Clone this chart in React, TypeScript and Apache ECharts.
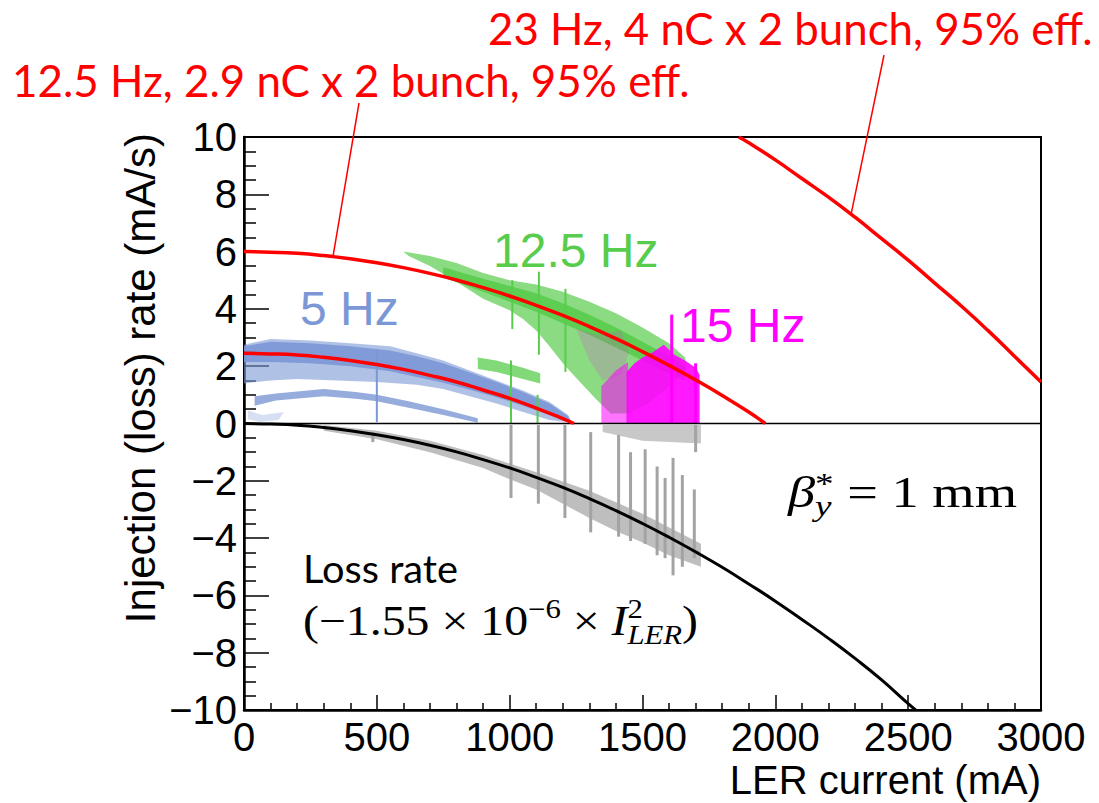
import { useEffect, useRef } from 'react';
import * as echarts from 'echarts';

type Pt = [number, number];

// x = LER current (mA), y = injection (loss) rate (mA/s)
const curve125: Pt[] = [
  [0, 6.0], [100, 5.98], [200, 5.94], [300, 5.86], [400, 5.75], [500, 5.61], [600, 5.44],
  [700, 5.24], [800, 5.01], [900, 4.74], [1000, 4.45], [1100, 4.12], [1200, 3.77],
  [1300, 3.38], [1400, 2.96], [1500, 2.51], [1600, 2.03], [1700, 1.52], [1800, 0.98],
  [1900, 0.4], [1962, 0],
];
const curve5: Pt[] = [
  [0, 2.45], [100, 2.43], [200, 2.39], [300, 2.31], [400, 2.2], [500, 2.06], [600, 1.89],
  [700, 1.68], [800, 1.45], [900, 1.17], [1000, 0.88], [1100, 0.54], [1200, 0.17], [1242, 0],
];
const curve23: Pt[] = [
  [1862, 10], [1900, 9.8], [2000, 9.2], [2100, 8.55], [2200, 7.9], [2300, 7.2], [2400, 6.45],
  [2500, 5.7], [2600, 4.9], [2700, 4.1], [2800, 3.25], [2900, 2.35], [3000, 1.45],
];
const lossCurve: Pt[] = [
  [0, 0], [100, -0.02], [200, -0.06], [300, -0.14], [400, -0.25], [500, -0.39], [600, -0.56],
  [700, -0.76], [800, -0.99], [900, -1.26], [1000, -1.55], [1100, -1.88], [1200, -2.23],
  [1300, -2.62], [1400, -3.04], [1500, -3.49], [1600, -3.97], [1700, -4.48], [1800, -5.02],
  [1900, -5.6], [2000, -6.2], [2100, -6.84], [2200, -7.5], [2300, -8.2], [2400, -8.95],
  [2500, -9.78], [2528, -10],
];
const zeroLine: Pt[] = [[0, 0], [3000, 0]];

// outlines of the measured point clouds
const blueOuter: Pt[] = [
  [0, 2.75], [100, 2.95], [250, 2.9], [400, 2.8], [550, 2.7], [650, 2.45], [750, 2.2],
  [850, 1.85], [950, 1.5], [1050, 1.15], [1150, 0.75], [1220, 0.3], [1235, 0.03],
  [1150, 0.12], [1050, 0.4], [950, 0.7], [850, 0.95], [750, 1.2], [650, 1.35], [500, 1.45],
  [350, 1.5], [200, 1.55], [100, 1.5], [0, 1.4],
];
const blueCore: Pt[] = [
  [0, 2.7], [100, 2.85], [250, 2.8], [400, 2.7], [550, 2.55], [650, 2.35], [750, 2.1],
  [850, 1.78], [950, 1.45], [1050, 1.1], [1150, 0.7], [1220, 0.25], [1232, 0.02],
  [1150, 0.3], [1050, 0.62], [950, 0.92], [850, 1.18], [750, 1.42], [650, 1.62], [550, 1.82],
  [400, 2.0], [250, 2.1], [100, 2.15], [0, 2.15],
];
const blueLowBand: Pt[] = [
  [40, 0.95], [120, 1.05], [300, 1.2], [420, 1.1], [500, 1.0], [620, 0.78], [750, 0.5],
  [880, 0.18], [880, 0.03], [750, 0.3], [620, 0.55], [500, 0.78], [420, 0.86], [300, 0.95],
  [120, 0.8], [40, 0.62],
];
const blueSpecks: Pt[] = [[15, 0.45], [70, 0.3], [150, 0.4], [130, 0.12], [60, 0.05], [15, 0.15]];
const greenOuter: Pt[] = [
  [600, 6.0], [700, 5.85], [800, 5.6], [900, 5.25], [1000, 5.0], [1100, 4.85], [1200, 4.6],
  [1300, 4.25], [1400, 3.85], [1500, 3.35], [1600, 2.8], [1660, 2.3], [1665, 1.9],
  [1600, 1.3], [1520, 0.7], [1450, 0.35], [1380, 0.35], [1320, 0.9], [1250, 1.6],
  [1200, 2.1], [1150, 2.7], [1100, 3.25], [1050, 3.65], [1000, 3.95], [900, 4.35],
  [800, 4.95], [700, 5.5], [620, 5.85],
];
const greenCore: Pt[] = [
  [750, 5.45], [900, 5.05], [1000, 4.8], [1100, 4.55], [1200, 4.2], [1300, 3.8], [1400, 3.35],
  [1500, 2.85], [1600, 2.35], [1660, 2.0], [1660, 1.5], [1600, 1.75], [1500, 2.2],
  [1400, 2.65], [1300, 3.1], [1200, 3.5], [1100, 3.9], [1000, 4.25], [900, 4.6], [750, 5.1],
];
const greenSideBand: Pt[] = [
  [880, 2.3], [950, 2.2], [1050, 1.95], [1115, 1.75], [1115, 1.4], [1050, 1.55], [950, 1.8],
  [880, 1.9],
];
const magentaSparse: Pt[] = [
  [1250, 3.3], [1330, 3.1], [1420, 3.25], [1450, 2.5], [1420, 1.7], [1350, 1.5], [1300, 2.2],
];
const magentaFringe: Pt[] = [[1345, 0], [1345, 1.3], [1400, 1.85], [1445, 2.15], [1445, 0]];
const magentaBlock: Pt[] = [
  [1440, 0], [1440, 1.8], [1470, 2.1], [1500, 2.3], [1540, 2.5], [1580, 2.75], [1620, 2.4],
  [1660, 2.2], [1700, 1.95], [1715, 1.7], [1715, 0],
];
const grayBand: Pt[] = [
  [300, -0.05], [500, -0.25], [700, -0.6], [900, -1.1], [1100, -1.7], [1300, -2.35],
  [1500, -3.15], [1720, -4.2], [1720, -5.0], [1600, -4.6], [1500, -4.15], [1400, -3.75],
  [1300, -3.3], [1200, -2.8], [1100, -2.3], [1000, -1.95], [900, -1.55], [700, -1.0],
  [500, -0.55], [300, -0.25],
];
const grayNearZero: Pt[] = [[1350, -0.05], [1720, -0.05], [1720, -0.7], [1500, -0.6], [1350, -0.3]];

// vertical streaks: [mA, from, to]
const graySpikes = [
  [485, -0.3, -0.65], [1005, -0.05, -2.6], [1108, -0.05, -2.8], [1208, -0.05, -3.3],
  [1305, -0.3, -3.8], [1410, -0.4, -3.95], [1455, -1.0, -4.1], [1510, -0.9, -4.2],
  [1555, -1.5, -4.6], [1585, -1.9, -4.7], [1615, -1.2, -5.3], [1650, -1.8, -5.0],
  [1695, -2.3, -4.7], [1700, -0.05, -1.0],
];
const greenSpikes = [[1005, 0, 2.2], [1010, 3.3, 5.0], [1105, 0, 1.0], [1110, 2.4, 5.3], [1210, 1.8, 4.7]];
const magentaSpikes = [[1610, 0, 3.8], [1700, 0, 2.1]];
const blueSpikes = [[500, 0.05, 2.6]];

// where the two label leaders touch their curves
const leaderTargets: Pt[] = [[335, 5.83], [2285, 7.3]];

const RED = '#ff0000';
const GREEN = '#58cc4c';
const BLUE = '#7b97d5';
const MAGENTA = '#ff00ff';
const GRAY = '#a3a3a3';
const SANS = 'Liberation Sans';
const SERIF = 'Liberation Serif';
const CALIBRI = 'Lato';

function band(outline: Pt[], color: string, opacity: number, z: number) {
  return {
    type: 'custom',
    silent: true,
    z,
    data: [outline[0]],
    renderItem: (_p: any, api: any) => ({
      type: 'polygon',
      shape: { points: outline.map((p) => api.coord(p)) },
      style: { fill: color, opacity },
    }),
  };
}

function streaks(rows: number[][], color: string, width: number, z: number) {
  return {
    type: 'custom',
    silent: true,
    z,
    data: rows,
    encode: { x: 0, y: [1, 2] },
    renderItem: (_p: any, api: any) => {
      const a = api.coord([api.value(0), api.value(1)]);
      const b = api.coord([api.value(0), api.value(2)]);
      return {
        type: 'rect',
        shape: { x: a[0] - width / 2, y: Math.min(a[1], b[1]), width, height: Math.abs(b[1] - a[1]) },
        style: { fill: color },
      };
    },
  };
}

function curve(data: Pt[], color: string, width: number) {
  return {
    type: 'line',
    data,
    smooth: true,
    showSymbol: false,
    silent: true,
    z: 10,
    lineStyle: { color, width },
  };
}

type Piece = { text: string; size: number; italic?: boolean; rise?: number };

// central-baseline offset of each family, as a fraction of the font size
const CENTRAL: Record<string, number> = { [SANS]: 0.35, [SERIF]: 0.34, [CALIBRI]: 0.39 };

function textRun(slots: (Piece | Piece[])[], x0: number, baseline: number, family: string, fill: string, width?: number) {
  const ctx = document.createElement('canvas').getContext('2d')!;
  const children: any[] = [];
  let x = 0;
  for (const slot of slots) {
    const pieces = Array.isArray(slot) ? slot : [slot];
    let adv = 0;
    for (const p of pieces) {
      ctx.font = `${p.italic ? 'italic ' : ''}${p.size}px "${family}"`;
      adv = Math.max(adv, ctx.measureText(p.text).width);
      children.push({
        type: 'text',
        x,
        y: baseline - (p.rise ?? 0) - CENTRAL[family] * p.size,
        style: {
          text: p.text,
          fontSize: p.size,
          fontFamily: family,
          fontStyle: p.italic ? 'italic' : 'normal',
          fill,
          align: 'left',
          verticalAlign: 'middle',
        },
      });
    }
    x += adv;
  }
  return { type: 'group', x: x0, y: 0, scaleX: width ? width / x : 1, z: 100, children };
}

export default function App() {
  const chartRef = useRef<HTMLDivElement>(null);

  useEffect(() => {
    if (!chartRef.current) return;
    const chart = echarts.init(chartRef.current, undefined, { renderer: 'svg' });

    const option: any = {
      animation: false,
      backgroundColor: '#fff',
      grid: { left: 244, right: 58, top: 137, bottom: 93, show: true, borderColor: '#000', borderWidth: 2 },
      xAxis: {
        type: 'value',
        min: 0,
        max: 3000,
        interval: 500,
        axisLine: { show: true, onZero: false, lineStyle: { color: '#000', width: 2.5 } },
        axisTick: { show: true, inside: true, length: 15, lineStyle: { color: '#000', width: 1.5 } },
        minorTick: { show: true, splitNumber: 5, length: 7, lineStyle: { color: '#000', width: 1.5 } },
        splitLine: { show: false },
        axisLabel: {
          color: '#000',
          fontSize: 40,
          fontFamily: SANS,
          margin: 7,
          showMinLabel: true,
          showMaxLabel: true,
          formatter: (v: number) => String(v),
        },
      },
      yAxis: {
        type: 'value',
        min: -10,
        max: 10,
        interval: 2,
        axisLine: { show: true, onZero: false, lineStyle: { color: '#000', width: 2.5 } },
        axisTick: { show: true, inside: true, length: 25, lineStyle: { color: '#000', width: 1.5 } },
        minorTick: { show: true, splitNumber: 4, length: 12, lineStyle: { color: '#000', width: 1.5 } },
        splitLine: { show: false },
        axisLabel: {
          color: '#000',
          fontSize: 40,
          fontFamily: SANS,
          margin: 7,
          formatter: (v: number) => (v < 0 ? '\u2212' + Math.abs(v) : String(v)),
        },
      },
      series: [
        band(grayBand, GRAY, 0.7, 1),
        band(grayNearZero, GRAY, 0.6, 1),
        streaks(graySpikes, GRAY, 3, 2),
        band(blueOuter, BLUE, 0.6, 3),
        band(blueCore, BLUE, 0.9, 3),
        band(blueLowBand, BLUE, 0.8, 3),
        band(blueSpecks, BLUE, 0.3, 3),
        streaks(blueSpikes, BLUE, 2, 3),
        band(greenOuter, GREEN, 0.7, 4),
        band(greenCore, GREEN, 0.9, 4),
        band(greenSideBand, GREEN, 0.75, 4),
        streaks(greenSpikes, GREEN, 2, 4),
        band(magentaSparse, MAGENTA, 0.15, 5),
        band(magentaFringe, MAGENTA, 0.55, 5),
        band(magentaBlock, MAGENTA, 0.9, 5),
        streaks(magentaSpikes, MAGENTA, 3, 5),
        { ...curve(zeroLine, '#000', 1.5), smooth: false },
        curve(lossCurve, '#000', 3),
        curve(curve5, RED, 3.5),
        curve(curve125, RED, 3.5),
        curve(curve23, RED, 3.5),
      ],
    };
    chart.setOption(option);

    const leaderStarts: Pt[] = [[359, 103], [884, 55]];
    const leaders = leaderTargets.map((t, i) => {
      const end = chart.convertToPixel({ gridIndex: 0 }, t) as number[];
      return {
        type: 'line',
        z: 100,
        shape: { x1: leaderStarts[i][0], y1: leaderStarts[i][1], x2: end[0], y2: end[1] },
        style: { stroke: RED, lineWidth: 1.5 },
      };
    });

    chart.setOption({
      graphic: [
        ...leaders,
        textRun([{ text: '12.5 Hz, 2.9 nC x 2 bunch, 95% eff.', size: 45 }], 12, 97, CALIBRI, RED, 678),
        textRun([{ text: '23 Hz, 4 nC x 2 bunch, 95% eff.', size: 45 }], 488, 45, CALIBRI, RED, 605),
        textRun([{ text: '12.5 Hz', size: 48 }], 493, 267, SANS, GREEN),
        textRun([{ text: '5 Hz', size: 48 }], 300, 325, SANS, BLUE),
        textRun([{ text: '15 Hz', size: 48 }], 680, 342, SANS, MAGENTA),
        textRun([{ text: 'Loss rate', size: 39 }], 303, 583, CALIBRI, '#000', 155),
        textRun(
          [
            { text: '(\u22121.55 \u00d7 10', size: 42 },
            { text: '\u22126', size: 27, rise: 17 },
            { text: ' \u00d7 ', size: 42 },
            { text: 'I', size: 42, italic: true },
            [{ text: '2', size: 27, rise: 17 }, { text: 'LER', size: 27, italic: true, rise: -9 }],
            { text: ')', size: 42 },
          ],
          303, 635, SERIF, '#000', 395,
        ),
        textRun(
          [
            { text: '\u03b2', size: 44, italic: true },
            [{ text: '*', size: 30, rise: 14 }, { text: 'y', size: 30, italic: true, rise: -9 }],
            { text: ' = 1 mm', size: 44 },
          ],
          788, 507, SERIF, '#000', 229,
        ),
        {
          type: 'text',
          x: 140,
          y: 133,
          rotation: Math.PI / 2,
          z: 100,
          style: {
            text: 'Injection (loss) rate (mA/s)',
            fontSize: 42,
            fontFamily: SANS,
            fill: '#000',
            align: 'right',
            verticalAlign: 'middle',
          },
        },
        {
          type: 'text',
          x: 1041,
          y: 780,
          z: 100,
          style: {
            text: 'LER current (mA)',
            fontSize: 40,
            fontFamily: SANS,
            fill: '#000',
            align: 'right',
            verticalAlign: 'middle',
          },
        },
      ],
    });

    return () => {
      chart.dispose();
    };
  }, []);

  return (
    <div
      ref={chartRef}
      style={{ position: 'fixed', left: 0, top: 0, width: 1099, height: 803, background: '#fff' }}
    ></div>
  );
}
